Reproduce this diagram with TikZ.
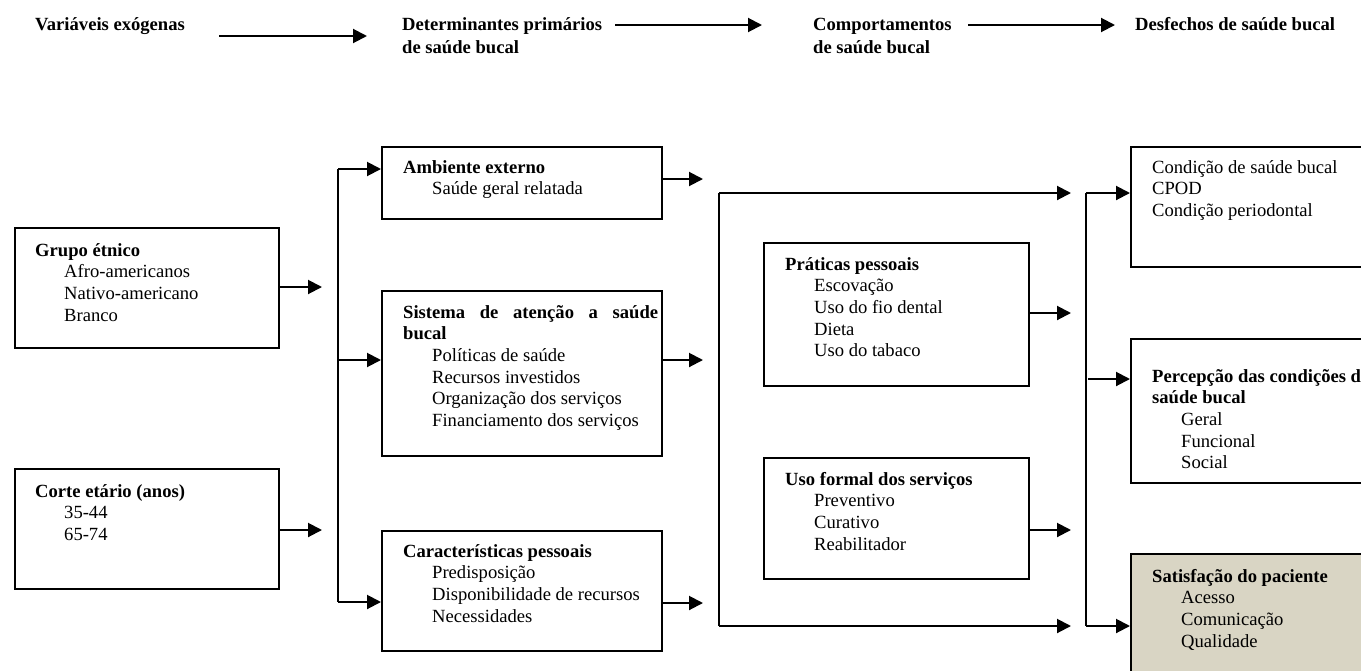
\documentclass[tikz,border=0pt]{standalone}
\usepackage{fontspec}
\setmainfont{Liberation Serif}
\usetikzlibrary{arrows.meta}
\definecolor{satfill}{RGB}{217,213,196}
\tikzset{
  box/.style={draw=black, line width=2pt, anchor=north west, inner sep=0pt},
  txt/.style={anchor=base west, inner sep=0pt, font=\fontsize{18.6}{21.7}\selectfont},
  hdr/.style={anchor=base west, inner sep=0pt, font=\fontsize{18.6}{23}\selectfont\bfseries},
  arr/.style={line width=2pt, -{Triangle[length=14pt,width=14pt]}},
  ln/.style={line width=2pt},
}
\newcommand{\ind}{\hspace*{29pt}}
\newcommand{\lns}[1]{\begin{tabular}[t]{@{}l@{}}#1\end{tabular}}
\begin{document}
\begin{tikzpicture}[x=1pt,y=-1pt]
\useasboundingbox (0,0) rectangle (1361,670);
\clip (0,0) rectangle (1361,670);

% ---------- header ----------
\node[hdr] (h1) at (35,30) {Variáveis exógenas};
\node[hdr] (h2) at (402,30) {\lns{Determinantes primários\\de saúde bucal}};
\node[hdr] (h3) at (813,30) {\lns{Comportamentos\\de saúde bucal}};
\node[hdr] (h4) at (1135,30) {Desfechos de saúde bucal};
\coordinate (a1s) at (219,36);  \coordinate (a1e) at (367,36);
\coordinate (a2s) at (615,25);  \coordinate (a2e) at (762,25);
\coordinate (a3s) at (968,25);  \coordinate (a3e) at (1115,25);
\draw[arr] (a1s) -- (a1e);
\draw[arr] (a2s) -- (a2e);
\draw[arr] (a3s) -- (a3e);

% ---------- boxes ----------
\node[box, minimum width=264, minimum height=120] (grupo) at (14,227) {};
\node[box, minimum width=264, minimum height=120] (corte) at (14,468) {};
\node[box, minimum width=280, minimum height=72]  (amb)   at (381,146) {};
\node[box, minimum width=280, minimum height=165] (sis)   at (381,290) {};
\node[box, minimum width=280, minimum height=120] (car)   at (381,530) {};
\node[box, minimum width=265, minimum height=143] (prat)  at (763,242) {};
\node[box, minimum width=265, minimum height=121] (uso)   at (763,457) {};
\node[box, minimum width=300, minimum height=120] (cond)  at (1130,146) {};
\node[box, minimum width=300, minimum height=144] (perc)  at (1130,338) {};
\node[box, fill=satfill, minimum width=300, minimum height=150] (sat) at (1130,553) {};

% ---------- texts ----------
\node[txt] (tgrupo) at (35,256) {\lns{\textbf{Grupo étnico}\\\ind Afro-americanos\\\ind Nativo-americano\\\ind Branco}};
\node[txt] (tcorte) at (35,497) {\lns{\textbf{Corte etário (anos)}\\\ind 35-44\\\ind 65-74}};
\node[txt] (tamb) at (403,173) {\lns{\textbf{Ambiente externo}\\\ind Saúde geral relatada}};
\node[txt] (tsis) at (403,318) {\lns{\textbf{\makebox[255pt][s]{Sistema de atenção a saúde}}\\\textbf{bucal}\\\ind Políticas de saúde\\\ind Recursos investidos\\\ind Organização dos serviços\\\ind Financiamento dos serviços}};
\node[txt] (tcar) at (403,557) {\lns{\textbf{Características pessoais}\\\ind Predisposição\\\ind Disponibilidade de recursos\\\ind Necessidades}};
\node[txt] (tprat) at (785,270) {\lns{\textbf{Práticas pessoais}\\\ind Escovação\\\ind Uso do fio dental\\\ind Dieta\\\ind Uso do tabaco}};
\node[txt] (tuso) at (785,485) {\lns{\textbf{Uso formal dos serviços}\\\ind Preventivo\\\ind Curativo\\\ind Reabilitador}};
\node[txt] (tcond) at (1152,173) {\lns{Condição de saúde bucal\\CPOD\\Condição periodontal}};
\node[txt] (tperc) at (1152,382) {\lns{\textbf{Percepção das condições de}\\\textbf{saúde bucal}\\\ind Geral\\\ind Funcional\\\ind Social}};
\node[txt] (tsat) at (1152,582) {\lns{\textbf{Satisfação do paciente}\\\ind Acesso\\\ind Comunicação\\\ind Qualidade}};

% ---------- connectors: column 1 -> bracket ----------
\coordinate (g1) at (322,287);
\coordinate (c1) at (322,530);
\draw[arr] (grupo.east |- g1) -- (g1);
\draw[arr] (corte.east |- c1) -- (c1);

% left bracket
\coordinate (lbT) at (338,169);
\coordinate (lbM) at (338,360);
\coordinate (lbB) at (338,602);
\draw[ln] (lbT) -- (lbB);
\draw[arr] (lbT) -- (amb.west |- lbT);
\draw[arr] (lbM) -- (sis.west |- lbM);
\draw[arr] (lbB) -- (car.west |- lbB);

% column 2 outputs
\coordinate (o1) at (703,179);
\coordinate (o2) at (703,360);
\coordinate (o3) at (703,603);
\draw[arr] (amb.east |- o1) -- (o1);
\draw[arr] (sis.east |- o2) -- (o2);
\draw[arr] (car.east |- o3) -- (o3);

% middle bracket
\coordinate (mbT) at (719,193);
\coordinate (mbB) at (719,626);
\coordinate (mtE) at (1071,193);
\coordinate (mbE) at (1071,626);
\draw[ln] (mbT) -- (mbB);
\draw[arr] (mbT) -- (mtE);
\draw[arr] (mbB) -- (mbE);

% column 3 outputs
\coordinate (p1) at (1071,313);
\coordinate (u1) at (1071,530);
\draw[arr] (prat.east |- p1) -- (p1);
\draw[arr] (uso.east |- u1) -- (u1);

% right bracket
\coordinate (rbT) at (1086,193);
\coordinate (rbM) at (1088,379);
\coordinate (rbB) at (1086,626);
\draw[ln] (rbT) -- (rbB);
\draw[arr] (rbT) -- (cond.west |- rbT);
\draw[arr] (rbM) -- (perc.west |- rbM);
\draw[arr] (rbB) -- (sat.west |- rbB);
\end{tikzpicture}
\end{document}
